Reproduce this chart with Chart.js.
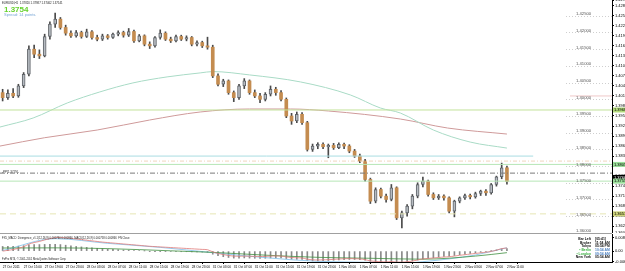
<!DOCTYPE html>
<html><head><meta charset="utf-8">
<script src="https://cdn.jsdelivr.net/npm/chart.js@4/dist/chart.umd.min.js"></script>
<style>
html,body{margin:0;padding:0;background:#fff;overflow:hidden}
#wrap{position:relative;width:625px;height:271px;background:#fff}
#c1{position:absolute;left:0;top:0}
#c2{position:absolute;left:0;top:233px}
</style></head><body>
<div id="wrap"><canvas id="c1" width="625" height="233"></canvas><canvas id="c2" width="625" height="38"></canvas></div>
<script>
// ---------------- DATA ----------------
const timeLabels = ["27 Oct 2011","27 Oct 15:00","27 Oct 19:00","27 Oct 23:00","28 Oct 03:00","28 Oct 07:00","28 Oct 11:00","28 Oct 15:00","28 Oct 19:00","28 Oct 23:00","31 Oct 03:00","31 Oct 07:00","31 Oct 11:00","31 Oct 15:00","31 Oct 19:00","31 Oct 23:00","1 Nov 03:00","1 Nov 07:00","1 Nov 11:00","1 Nov 15:00","1 Nov 19:00","1 Nov 23:00","2 Nov 03:00","2 Nov 07:00","2 Nov 11:00"];
const opens  = [1.4020,1.4005,1.4018,1.4010,1.4040,1.4075,1.4150,1.4135,1.4130,1.4188,1.4225,1.4240,1.4215,1.4198,1.4190,1.4200,1.4188,1.4202,1.4185,1.4180,1.4190,1.4185,1.4195,1.4200,1.4192,1.4203,1.4175,1.4190,1.4165,1.4160,1.4185,1.4198,1.4180,1.4175,1.4188,1.4180,1.4185,1.4165,1.4170,1.4160,1.4156,1.4070,1.4045,1.4055,1.4020,1.4005,1.4040,1.4055,1.4020,1.4010,1.4000,1.4015,1.4030,1.4020,1.4000,1.3950,1.3935,1.3955,1.3930,1.3850,1.3860,1.3865,1.3858,1.3862,1.3855,1.3865,1.3860,1.3845,1.3830,1.3815,1.3760,1.3695,1.3730,1.3710,1.3700,1.3735,1.3645,1.3660,1.3680,1.3710,1.3745,1.3755,1.3715,1.3705,1.3710,1.3705,1.3665,1.3695,1.3705,1.3712,1.3708,1.3718,1.3725,1.3720,1.3745,1.3768,1.3795];
const highs  = [1.4030,1.4028,1.4032,1.4045,1.4080,1.4160,1.4162,1.4148,1.4195,1.4232,1.4258,1.4245,1.4222,1.4205,1.4206,1.4204,1.4210,1.4206,1.4192,1.4195,1.4194,1.4198,1.4205,1.4204,1.4212,1.4207,1.4194,1.4193,1.4172,1.4188,1.4208,1.4202,1.4186,1.4192,1.4192,1.4190,1.4188,1.4175,1.4174,1.4186,1.4162,1.4076,1.4060,1.4058,1.4025,1.4045,1.4062,1.4058,1.4028,1.4018,1.4020,1.4040,1.4036,1.4026,1.4004,1.3958,1.3962,1.3960,1.3934,1.3866,1.3870,1.3870,1.3866,1.3868,1.3870,1.3869,1.3864,1.3850,1.3836,1.3820,1.3764,1.3735,1.3734,1.3716,1.3745,1.3738,1.3665,1.3685,1.3715,1.3750,1.3767,1.3758,1.3720,1.3715,1.3714,1.3708,1.3698,1.3708,1.3716,1.3716,1.3722,1.3728,1.3730,1.3748,1.3770,1.3809,1.3800];
const lows   = [1.3995,1.4000,1.4005,1.4006,1.4035,1.4070,1.4125,1.4122,1.4127,1.4180,1.4215,1.4210,1.4192,1.4185,1.4186,1.4183,1.4185,1.4180,1.4175,1.4176,1.4180,1.4182,1.4190,1.4186,1.4188,1.4170,1.4172,1.4160,1.4152,1.4156,1.4180,1.4176,1.4170,1.4172,1.4176,1.4175,1.4160,1.4160,1.4155,1.4150,1.4065,1.4040,1.4038,1.4015,1.3993,1.4000,1.4032,1.4015,1.4005,1.3990,1.3995,1.4010,1.4012,1.3995,1.3945,1.3925,1.3930,1.3925,1.3845,1.3844,1.3852,1.3852,1.3825,1.3850,1.3852,1.3852,1.3840,1.3826,1.3810,1.3755,1.3688,1.3690,1.3705,1.3692,1.3696,1.3640,1.3615,1.3650,1.3672,1.3705,1.3738,1.3710,1.3700,1.3700,1.3698,1.3660,1.3648,1.3690,1.3700,1.3702,1.3704,1.3712,1.3712,1.3716,1.3740,1.3762,1.3746];
const closes = [1.4005,1.4018,1.4010,1.4040,1.4075,1.4150,1.4135,1.4130,1.4188,1.4225,1.4240,1.4215,1.4198,1.4190,1.4200,1.4188,1.4202,1.4185,1.4180,1.4190,1.4185,1.4195,1.4200,1.4192,1.4203,1.4175,1.4190,1.4165,1.4160,1.4185,1.4198,1.4180,1.4175,1.4188,1.4180,1.4185,1.4165,1.4170,1.4160,1.4156,1.4070,1.4045,1.4055,1.4020,1.4005,1.4040,1.4055,1.4020,1.4010,1.4000,1.4015,1.4030,1.4020,1.4000,1.3950,1.3935,1.3955,1.3930,1.3850,1.3860,1.3865,1.3858,1.3862,1.3855,1.3865,1.3860,1.3845,1.3830,1.3815,1.3760,1.3695,1.3730,1.3710,1.3700,1.3735,1.3645,1.3660,1.3680,1.3710,1.3745,1.3755,1.3715,1.3705,1.3710,1.3705,1.3665,1.3695,1.3705,1.3712,1.3708,1.3718,1.3725,1.3720,1.3745,1.3768,1.3795,1.3754];

// slow moving averages, read at sample bars
const tealMaBars   = [-0.5, 5.8, 12.3, 18.5, 24.8, 31.3, 37.6, 40, 47, 56.7, 66.2, 71.9, 75.7, 82, 89, 96];
const tealMaValues = [1.3917,1.3944,1.3989,1.4022,1.4049,1.4067,1.4079,1.4083,1.4073,1.4052,1.4013,1.3974,1.3959,1.3908,1.3872,1.3854];
const redMaBars    = [-0.5, 8, 18, 28, 37.6, 47, 54.8, 62, 75.7, 84.7, 96];
const redMaValues  = [1.3860,1.3885,1.3908,1.3938,1.3962,1.3971,1.3971,1.3965,1.3941,1.3914,1.3896];

// horizontal objects
const levelPrices = [1.425,1.420,1.415,1.410,1.405,1.400,1.395,1.390,1.385,1.380,1.375,1.370,1.365,1.360];
const hLinePrices = [1.3968, 1.4010, 1.3830, 1.3815, 1.3805, 1.3779, 1.3755, 1.3657];
const axisMarkPrices = [1.3968, 1.3805, 1.3766, 1.3755, 1.3657];

// MACD sub-window
const macdHist = [0.0030,0.0031,0.0030,0.0032,0.0035,0.0040,0.0042,0.0042,0.0043,0.0044,
 0.0044,0.0042,0.0038,0.0034,0.0030,0.0027,0.0024,0.0021,0.0018,0.0015,
 0.0013,0.0011,0.0009,0.0007,0.0006,0.0004,0.0003,0.0001,-0.0001,-0.0002,
 -0.0001,-0.0002,-0.0003,-0.0003,-0.0004,-0.0004,-0.0005,-0.0006,-0.0006,-0.0007,
 -0.0020,-0.0030,-0.0036,-0.0041,-0.0045,-0.0045,-0.0044,-0.0045,-0.0046,-0.0047,
 -0.0046,-0.0044,-0.0043,-0.0044,-0.0048,-0.0052,-0.0053,-0.0054,-0.0060,-0.0063,
 -0.0063,-0.0062,-0.0061,-0.0059,-0.0057,-0.0055,-0.0054,-0.0054,-0.0055,-0.0059,
 -0.0066,-0.0068,-0.0069,-0.0069,-0.0067,-0.0070,-0.0070,-0.0067,-0.0063,-0.0057,
 -0.0050,-0.0046,-0.0042,-0.0038,-0.0034,-0.0032,-0.0028,-0.0023,-0.0019,-0.0015,
 -0.0011,-0.0007,-0.0003,0.0002,0.0008,0.0014,0.0017];
const macdRed = [0.0000,0.0005,0.0010,0.0018,0.0028,0.0045,0.0055,0.0062,0.0072,0.0080,
 0.0086,0.0087,0.0085,0.0082,0.0078,0.0074,0.0070,0.0066,0.0062,0.0058,
 0.0055,0.0052,0.0049,0.0046,0.0043,0.0040,0.0037,0.0034,0.0031,0.0029,
 0.0027,0.0025,0.0023,0.0021,0.0019,0.0017,0.0015,0.0013,0.0011,0.0009,
 -0.0005,-0.0015,-0.0022,-0.0028,-0.0032,-0.0033,-0.0032,-0.0033,-0.0034,-0.0035,
 -0.0034,-0.0032,-0.0031,-0.0032,-0.0037,-0.0041,-0.0043,-0.0044,-0.0052,-0.0056,
 -0.0057,-0.0056,-0.0055,-0.0053,-0.0051,-0.0049,-0.0048,-0.0049,-0.0050,-0.0055,
 -0.0063,-0.0066,-0.0068,-0.0069,-0.0067,-0.0071,-0.0071,-0.0068,-0.0064,-0.0057,
 -0.0050,-0.0047,-0.0044,-0.0041,-0.0038,-0.0036,-0.0032,-0.0027,-0.0023,-0.0019,
 -0.0015,-0.0011,-0.0007,-0.0002,0.0006,0.0016,0.0020];
const macdBlueBars   = [0, 10, 20, 30, 40, 50, 60, 70, 76, 80, 85, 90, 96];
const macdBlueValues = [0.0004,0.0080,0.0050,0.0024,-0.0010,-0.0042,-0.0066,-0.0072,-0.0078,-0.0068,-0.0050,-0.0025,0.0022];
const macdGreenBars   = [0, 10, 20, 32, 40, 50, 60, 70, 80, 90, 96];
const macdGreenValues = [0.0020,0.0021,0.0016,0.0002,-0.0008,-0.0026,-0.0040,-0.0046,-0.0052,-0.0032,-0.0010];
const macdAxisTicks = [0.0086, 0, -0.0068];

// ---------------- SETUP ----------------
const X_MIN = -0.5, X_MAX = 116;
const FONT = '"Liberation Sans", Arial, sans-serif';
const BULL_FILL = '#b6bbc1', BULL_EDGE = '#5f6368', BEAR_FILL = '#c48c50', BEAR_EDGE = '#8c5c2c';

function hline(p, x0, x1, color, dash) {
  return {type:'line', data:[{x:x0,y:p},{x:x1,y:p}], borderColor:color, borderWidth:1,
          borderDash:dash||[], pointRadius:0, order:0, clip:false};
}
function series(xs, ys) { return xs.map((x,i)=>({x:x, y:ys[i]})); }
const noPad = s => { s.paddingTop = 0; s.paddingBottom = 0; s.paddingLeft = 0; s.paddingRight = 0; };
const isBull = i => closes[i] >= opens[i];

const textPlugin1 = {
  id:'text1',
  afterDatasetsDraw(chart) {
    const ctx = chart.ctx, ys = chart.scales.y;
    ctx.save();
    ctx.font = '4.2px ' + FONT; ctx.textAlign = 'left'; ctx.textBaseline = 'alphabetic';
    levelPrices.forEach(p => {
      const py = ys.getPixelForValue(p);
      ctx.strokeStyle = '#cfcfcf'; ctx.lineWidth = 1; ctx.setLineDash([1,2]);
      ctx.beginPath(); ctx.moveTo(566, Math.round(py)+0.5); ctx.lineTo(612, Math.round(py)+0.5); ctx.stroke();
      ctx.fillStyle = '#555'; ctx.fillText(p.toFixed(5), 576, py - 0.5);
    });
    ctx.setLineDash([]);
    ctx.font = '3px ' + FONT; ctx.fillStyle = '#333';
    ctx.fillText('-PP[1.3779]-', 2, ys.getPixelForValue(hLinePrices[5]) - 0.5);
    ctx.font = '2.8px ' + FONT; ctx.fillStyle = '#222'; ctx.textBaseline = 'middle';
    ctx.fillText('EURUSD,H1  1.37820 1.37987 1.37462 1.37541', 2, 3);
    ctx.font = 'bold 8px ' + FONT; ctx.fillStyle = '#66d22e';
    ctx.fillText(closes[closes.length-1].toFixed(4), 4, 9.5);
    ctx.font = '4px ' + FONT; ctx.fillStyle = '#7aa7d6';
    ctx.fillText('Spread: 14 points.', 4, 15);
    ctx.restore();
  },
  afterDraw(chart) {
    const ctx = chart.ctx, ys = chart.scales.y;
    const fills = ['#b4dc7c','#9be09b','#000000','#9be09b','#cdd37a'];
    ctx.save();
    ctx.font = '4px ' + FONT; ctx.textBaseline = 'middle'; ctx.textAlign = 'left';
    axisMarkPrices.forEach((p,i) => {
      const py = ys.getPixelForValue(p);
      ctx.fillStyle = fills[i]; ctx.fillRect(613, py-2.5, 12, 5);
      ctx.fillStyle = i === 2 ? '#fff' : '#000';
      ctx.fillText(p.toFixed(4), 614, py);
    });
    ctx.restore();
  }
};

new Chart(document.getElementById('c1'), {
  type:'bar',
  data:{datasets:[
    hline(hLinePrices[0], X_MIN, X_MAX, '#c2e29a'),
    hline(hLinePrices[1], 108, X_MAX, '#efc8c8'),
    hline(hLinePrices[2], X_MIN, 101, '#a9dde2'),
    hline(hLinePrices[3], X_MIN, X_MAX, '#efd6bd', [4,2,1,2]),
    hline(hLinePrices[4], X_MIN, X_MAX, '#b6e6b6'),
    hline(hLinePrices[5], X_MIN, X_MAX, '#7a7a7a', [5,2,1,2]),
    hline(hLinePrices[6], X_MIN, X_MAX, '#b6e6b6'),
    hline(hLinePrices[7], X_MIN, X_MAX, '#e6e6b4', [6,4]),
    {type:'line', data:series(tealMaBars, tealMaValues), borderColor:'#a9dbc6', borderWidth:1, pointRadius:0, cubicInterpolationMode:'monotone', order:3},
    {type:'line', data:series(redMaBars, redMaValues), borderColor:'#cf9a9a', borderWidth:1, pointRadius:0, cubicInterpolationMode:'monotone', order:3},
    {type:'bar', data:opens.map((o,i)=>({x:i, y:[o, closes[i]]})),
      backgroundColor: c => isBull(c.dataIndex) ? BULL_FILL : BEAR_FILL,
      borderColor: c => isBull(c.dataIndex) ? BULL_EDGE : BEAR_EDGE,
      borderWidth: c => isBull(c.dataIndex) ? 1 : 0,
      borderSkipped:false,
      barThickness:3, minBarLength:1, grouped:false, order:1},
    {type:'bar', data:lows.map((l,i)=>({x:i, y:[l, highs[i]]})), backgroundColor:'#4a4a4a',
      barThickness:1, grouped:false, order:2}
  ]},
  options:{
    responsive:false, animation:false, events:[],
    layout:{padding:0},
    plugins:{legend:{display:false}, tooltip:{enabled:false}},
    scales:{
      x:{type:'linear', min:X_MIN, max:X_MAX, offset:false, display:false},
      y:{position:'right', min:1.35997, max:1.42973,
         grid:{drawOnChartArea:false, drawTicks:true, tickLength:2, color:'#000'},
         border:{display:true, color:'#000'},
         ticks:{stepSize:0.003, font:{size:4, family:FONT}, color:'#000', padding:1, crossAlign:'near',
                callback:v=>v.toFixed(4)},
         afterFit:s=>{ s.width = 13; noPad(s); }}
    }
  },
  plugins:[textPlugin1]
});

const textPlugin2 = {
  id:'text2',
  afterDraw(chart) {
    const ctx = chart.ctx, a = chart.chartArea;
    ctx.save();
    ctx.strokeStyle = '#a0a0a0'; ctx.lineWidth = 1;
    ctx.beginPath(); ctx.moveTo(0, a.top - 0.5); ctx.lineTo(a.right, a.top - 0.5); ctx.stroke();
    ctx.font = '2.7px ' + FONT; ctx.fillStyle = '#222'; ctx.textAlign = 'left'; ctx.textBaseline = 'middle';
    ctx.fillText('FX5_MACD_Divergence_v1.1(12,26,9) 0.000760 0.000866  MACD(12,26,9) 0.000758 0.000866  FN Close', 2, a.top + 4);
    ctx.fillText('FxPro MT4, \u00a9 2001-2011 MetaQuotes Software Corp.', 2, a.bottom - 3);
    const rows = [['Bar Left','[05:41]','#111','#111'],['Broker','11:54 AM','#111','#111'],['Tokyo','05:54 PM','#111','#111'],
                  ['\u2022 Berlin','10:54 AM','#3cb043','#4a7fc0'],['\u2022 London','09:54 AM','#3cb043','#4a7fc0'],['New York','05:54 AM','#111','#111']];
    ctx.font = 'bold 3.4px ' + FONT;
    rows.forEach((r,i) => {
      const y = a.top + 5 + i*3.65;
      ctx.textAlign = 'right'; ctx.fillStyle = r[2]; ctx.fillText(r[0], 591, y);
      ctx.textAlign = 'left'; ctx.fillStyle = r[3]; ctx.fillText(r[1], 595, y);
    });
    ctx.restore();
  }
};

new Chart(document.getElementById('c2'), {
  type:'bar',
  data:{datasets:[
    {type:'line', data:series(macdGreenBars, macdGreenValues), borderColor:'#3f8f3f', borderWidth:0.8, pointRadius:0, cubicInterpolationMode:'monotone', order:1},
    {type:'line', data:series(macdBlueBars, macdBlueValues), borderColor:'#7cbfea', borderWidth:0.8, pointRadius:0, cubicInterpolationMode:'monotone', order:1},
    {type:'line', data:macdRed.map((v,i)=>({x:i,y:v})), borderColor:'#e07a78', borderWidth:0.8, pointRadius:0, tension:0.3, order:0},
    {type:'bar', data:macdHist.map((v,i)=>({x:i,y:v})), backgroundColor:'#8a8a8a', barThickness:1, grouped:false, order:2}
  ]},
  options:{
    responsive:false, animation:false, events:[],
    layout:{padding:{top:1, left:0, right:0, bottom:0}},
    plugins:{legend:{display:false}, tooltip:{enabled:false}},
    scales:{
      x:{type:'linear', min:X_MIN, max:X_MAX, offset:false,
         grid:{drawOnChartArea:false, drawTicks:true, tickLength:2, color:'#000'},
         border:{display:true, color:'#000'},
         afterBuildTicks:s=>{ s.ticks = timeLabels.map((t,i)=>({value:i*4})); },
         ticks:{autoSkip:false, maxRotation:0, align:'start', padding:1, font:{size:3.2, family:FONT}, color:'#000',
                callback:(v)=>timeLabels[Math.round(v/4)]},
         afterFit:s=>{ s.height = 9; noPad(s); }},
      y:{position:'right', min:-0.0070, max:0.0110,
         grid:{drawOnChartArea:false, drawTicks:true, tickLength:2, color:'#000'},
         border:{display:true, color:'#000'},
         afterBuildTicks:s=>{ s.ticks = macdAxisTicks.map(v=>({value:v})); },
         ticks:{font:{size:4, family:FONT}, color:'#000', padding:1, crossAlign:'near',
                callback:v=> v===0 ? '0.00' : v.toFixed(6)},
         afterFit:s=>{ s.width = 13; noPad(s); }}
    }
  },
  plugins:[textPlugin2]
});
</script>
</body></html>
